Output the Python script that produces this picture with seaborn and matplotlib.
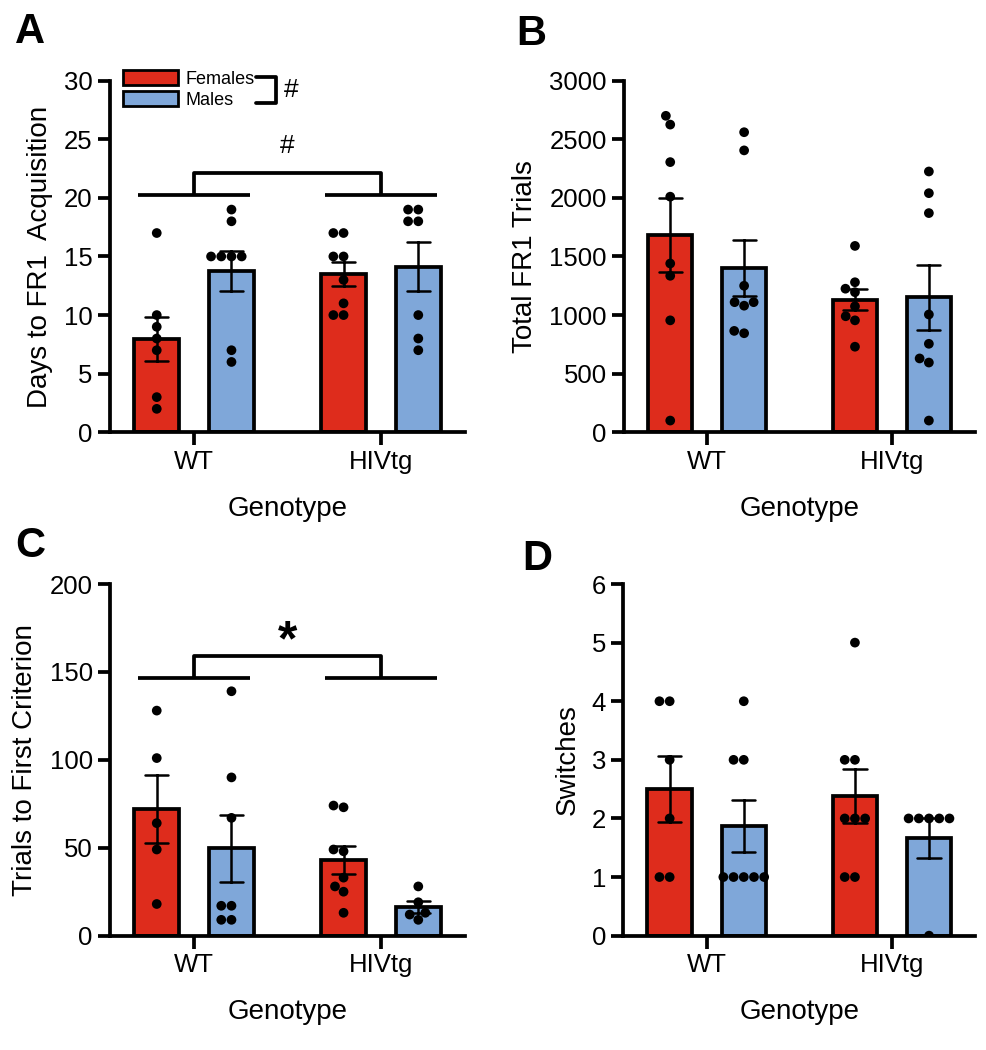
import pandas as pd
import matplotlib.pyplot as plt
import matplotlib.patches as mpatches
import seaborn as sns

# group order and colours
genotypes = ['WT', 'HIVtg']
sexes = ['Females', 'Males']
colors = ['#DE2C1C', '#7FA7D9']

# A: days to FR1 acquisition
days_wt_f = [17, 10, 9, 8, 7, 3, 2]
days_wt_m = [19, 18, 15, 15, 15, 15, 7, 6]
days_hiv_f = [17, 17, 15, 15, 13, 11, 10, 10]
days_hiv_m = [19, 19, 18, 18, 10, 8, 7]

# B: total FR1 trials
trials_wt_f = [2700, 2625, 2305, 2010, 1440, 1335, 955, 100]
trials_wt_m = [2560, 2405, 1250, 1110, 1080, 1110, 845, 865]
trials_hiv_f = [1590, 1280, 1225, 1195, 1075, 990, 955, 730]
trials_hiv_m = [2225, 2040, 1870, 1005, 755, 630, 595, 100]

# C: trials to first criterion
crit_wt_f = [128, 101, 64, 49, 18]
crit_wt_m = [139, 90, 67, 17, 17, 9, 9]
crit_hiv_f = [73, 74, 49, 48, 33, 28, 25, 13]
crit_hiv_m = [28, 19, 13, 12, 9]

# D: switches
sw_wt_f = [4, 4, 3, 2, 1, 1]
sw_wt_m = [4, 3, 3, 1, 1, 1, 1, 1]
sw_hiv_f = [5, 3, 3, 2, 2, 2, 1, 1]
sw_hiv_m = [2, 2, 2, 2, 2, 0]


def make_df(wt_f, wt_m, hiv_f, hiv_m):
    rows = []
    for g, s, vals in [('WT', 'Females', wt_f), ('WT', 'Males', wt_m),
                       ('HIVtg', 'Females', hiv_f), ('HIVtg', 'Males', hiv_m)]:
        for v in vals:
            rows.append({'Genotype': g, 'Sex': s, 'value': v})
    return pd.DataFrame(rows)


sns.set_style('ticks')
plt.rcParams['font.family'] = ['Liberation Sans', 'DejaVu Sans']
plt.rcParams.update({'text.color': 'black', 'axes.labelcolor': 'black',
                     'axes.edgecolor': 'black', 'xtick.color': 'black',
                     'ytick.color': 'black'})

LW = 2.7


def draw_panel(ax, df, ylabel, ymax, step):
    sns.barplot(data=df, x='Genotype', y='value', hue='Sex', order=genotypes,
                hue_order=sexes, palette=colors, saturation=1, width=0.8, gap=0.4,
                errorbar='se', capsize=0.25, edgecolor='black', linewidth=LW,
                err_kws={'color': 'black', 'linewidth': 1.8}, legend=False, ax=ax)
    sns.swarmplot(data=df, x='Genotype', y='value', hue='Sex', order=genotypes,
                  hue_order=sexes, palette=['black', 'black'], dodge=True,
                  size=7, legend=False, ax=ax, zorder=4)
    ax.set_ylim(0, ymax)
    ax.set_yticks(range(0, ymax + 1, step))
    ax.set_xlim(-0.45, 1.45)
    ax.set_ylabel(ylabel, fontsize=20, labelpad=8)
    ax.set_xlabel('Genotype', fontsize=20, labelpad=16)
    sns.despine(ax=ax)
    for side in ['left', 'bottom']:
        ax.spines[side].set_linewidth(LW)
    ax.tick_params(axis='both', width=LW, length=9, labelsize=18.5)


fig = plt.figure(figsize=(9.86, 10.5), dpi=100)
ax_a = fig.add_axes([0.1116, 0.5883, 0.360, 0.3349])
ax_b = fig.add_axes([0.6329, 0.5883, 0.356, 0.3349])
ax_c = fig.add_axes([0.1116, 0.1089, 0.360, 0.3349])
ax_d = fig.add_axes([0.6322, 0.1089, 0.357, 0.3349])

draw_panel(ax_a, make_df(days_wt_f, days_wt_m, days_hiv_f, days_hiv_m),
           'Days to FR1  Acquisition', 30, 5)
draw_panel(ax_b, make_df(trials_wt_f, trials_wt_m, trials_hiv_f, trials_hiv_m),
           'Total FR1 Trials', 3000, 500)
draw_panel(ax_c, make_df(crit_wt_f, crit_wt_m, crit_hiv_f, crit_hiv_m),
           'Trials to First Criterion', 200, 50)
draw_panel(ax_d, make_df(sw_wt_f, sw_wt_m, sw_hiv_f, sw_hiv_m),
           'Switches', 6, 1)


def bracket(ax, y_arm, y_top, label, label_y, **text_kws):
    kw = dict(color='black', linewidth=LW, solid_capstyle='butt', clip_on=False)
    ax.plot([-0.3, 0.3], [y_arm, y_arm], **kw)
    ax.plot([0.7, 1.3], [y_arm, y_arm], **kw)
    ax.plot([0, 0, 1, 1], [y_arm, y_top, y_top, y_arm], **kw)
    ax.text(0.5, label_y, label, ha='center', va='center', **text_kws)


bracket(ax_a, 20.25, 22.1, '#', 24.4, fontsize=19)
bracket(ax_c, 146.7, 159.2, '*', 167, fontsize=36, fontweight='bold')

# legend for panel A
handles = [mpatches.Patch(facecolor=c, edgecolor='black', linewidth=2) for c in colors]
ax_a.legend(handles, sexes, loc='upper left', bbox_to_anchor=(0.036, 1.03),
            frameon=False, fontsize=13, handlelength=3.05, handleheight=0.9,
            handletextpad=0.4, labelspacing=0.18, borderpad=0, borderaxespad=0)
ax_a.plot([0.333, 0.436, 0.436, 0.333], [30.34, 30.34, 28.12, 28.12],
          color='black', linewidth=LW, clip_on=False)
ax_a.text(0.52, 29.2, '#', fontsize=19, ha='center', va='center')

# panel letters
for x, y, letter in [(15, 43, 'A'), (516, 45, 'B'), (15, 557, 'C'), (522, 570, 'D')]:
    fig.text(x / 986, 1 - y / 1050, letter, fontsize=30, fontweight='bold',
             ha='left', va='baseline')

plt.savefig('out.png', dpi=100)
